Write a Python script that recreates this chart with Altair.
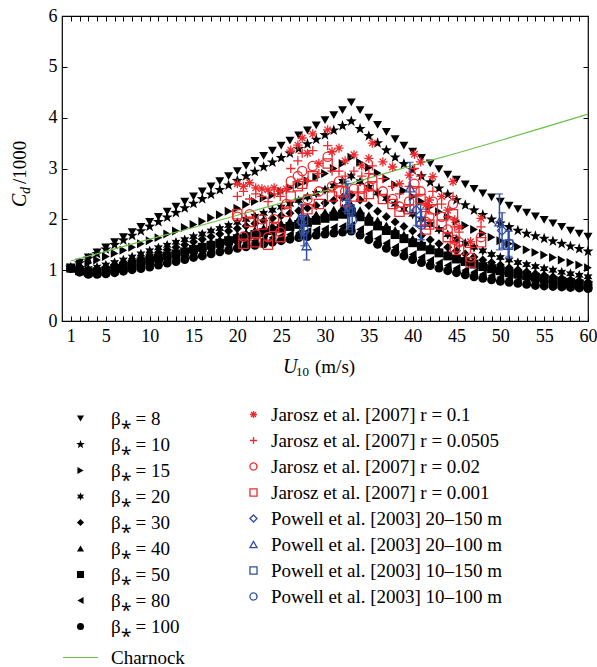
import altair as alt
import pandas as pd

# ---------------- data ----------------
U = list(range(1, 61))

b8 = [1.05,1.15,1.25,1.35,1.45,1.55,1.65,1.75,1.85,1.95,2.05,2.15,2.25,2.35,2.45,2.55,2.65,2.75,2.85,2.95,
      3.05,3.15,3.25,3.35,3.45,3.55,3.65,3.75,3.85,3.95,4.05,4.15,4.30,
      4.15,4.00,3.86,3.72,3.58,3.45,3.33,3.21,3.10,2.99,2.88,2.78,2.69,2.60,2.51,2.43,2.35,2.27,2.20,2.13,2.06,1.99,1.92,1.85,1.78,1.72,1.66]
b10 = [1.05,1.14,1.23,1.32,1.41,1.50,1.59,1.68,1.77,1.86,1.95,2.04,2.13,2.22,2.31,2.40,2.49,2.58,2.67,2.76,
       2.85,2.94,3.03,3.12,3.21,3.30,3.39,3.48,3.57,3.66,3.75,3.84,3.93,
       3.78,3.64,3.50,3.36,3.22,3.09,2.97,2.85,2.73,2.61,2.49,2.38,2.28,2.18,2.09,2.00,1.92,1.85,1.78,1.72,1.67,1.62,1.57,1.52,1.47,1.42,1.37]
b15 = [1.05,1.09,1.14,1.20,1.27,1.33,1.39,1.45,1.52,1.58,1.64,1.71,1.77,1.84,1.90,1.96,2.03,2.09,2.16,2.22,
       2.29,2.35,2.42,2.48,2.55,2.62,2.69,2.76,2.83,2.90,3.00,3.10,3.22,
       3.12,3.02,2.91,2.80,2.68,2.56,2.45,2.35,2.25,2.15,2.05,1.96,1.88,1.80,1.72,1.65,1.58,1.52,1.46,1.40,1.35,1.30,1.25,1.20,1.15,1.10,1.05]
b20 = [1.05,1.03,1.03,1.06,1.10,1.15,1.20,1.26,1.32,1.38,1.44,1.49,1.55,1.60,1.66,1.71,1.77,1.82,1.88,1.94,
       2.00,2.06,2.12,2.18,2.24,2.30,2.37,2.44,2.51,2.58,2.66,2.75,2.85,
       2.74,2.63,2.52,2.41,2.30,2.20,2.10,2.00,1.90,1.80,1.70,1.61,1.53,1.45,1.38,1.31,1.25,1.20,1.15,1.11,1.07,1.03,1.00,0.96,0.93,0.90,0.87]
b30 = [1.04,1.01,1.00,1.02,1.05,1.09,1.14,1.19,1.24,1.30,1.35,1.40,1.45,1.50,1.56,1.61,1.66,1.71,1.77,1.82,
       1.87,1.92,1.97,2.02,2.07,2.12,2.17,2.22,2.27,2.32,2.37,2.43,2.48,
       2.38,2.27,2.16,2.05,1.95,1.86,1.77,1.68,1.60,1.52,1.45,1.38,1.32,1.26,1.20,1.15,1.10,1.05,1.01,0.97,0.93,0.90,0.87,0.84,0.81,0.79,0.77]
b40 = [1.04,1.00,0.98,0.99,1.02,1.06,1.10,1.14,1.19,1.24,1.29,1.33,1.38,1.42,1.47,1.51,1.56,1.60,1.65,1.70,
       1.74,1.79,1.83,1.88,1.92,1.97,2.01,2.05,2.10,2.14,2.19,2.23,2.28,
       2.18,2.08,1.98,1.88,1.79,1.70,1.62,1.54,1.47,1.40,1.33,1.27,1.21,1.16,1.11,1.06,1.02,0.98,0.94,0.91,0.88,0.85,0.82,0.80,0.78,0.75,0.73]
b50 = [1.04,0.99,0.96,0.97,0.99,1.03,1.07,1.11,1.15,1.19,1.24,1.28,1.32,1.36,1.41,1.45,1.49,1.53,1.58,1.62,
       1.66,1.70,1.74,1.78,1.82,1.86,1.90,1.94,1.98,2.02,2.06,2.10,2.14,
       2.05,1.96,1.87,1.78,1.70,1.62,1.54,1.47,1.40,1.34,1.28,1.22,1.17,1.12,1.07,1.03,0.99,0.95,0.92,0.89,0.86,0.83,0.80,0.78,0.76,0.73,0.70]
b80 = [1.03,0.98,0.94,0.94,0.96,0.99,1.02,1.05,1.09,1.12,1.16,1.20,1.24,1.28,1.32,1.36,1.40,1.44,1.48,1.52,
       1.55,1.58,1.61,1.64,1.67,1.70,1.73,1.76,1.79,1.81,1.84,1.86,1.88,
       1.80,1.71,1.62,1.53,1.45,1.38,1.31,1.25,1.19,1.14,1.09,1.04,1.00,0.96,0.92,0.89,0.86,0.83,0.80,0.78,0.76,0.74,0.72,0.70,0.69,0.67,0.66]
b100 = [1.03,0.96,0.92,0.92,0.93,0.95,0.98,1.01,1.03,1.06,1.10,1.14,1.17,1.21,1.25,1.28,1.32,1.36,1.39,1.43,
        1.46,1.49,1.52,1.55,1.58,1.61,1.64,1.66,1.69,1.71,1.73,1.75,1.77,
        1.69,1.60,1.51,1.43,1.35,1.28,1.21,1.15,1.09,1.04,0.99,0.95,0.91,0.87,0.84,0.81,0.78,0.76,0.74,0.72,0.70,0.69,0.68,0.67,0.66,0.65,0.64]

beta_labels = ["β⁎ = 8", "β⁎ = 10", "β⁎ = 15", "β⁎ = 20", "β⁎ = 30",
               "β⁎ = 40", "β⁎ = 50", "β⁎ = 80", "β⁎ = 100"]
beta_series = [b8, b10, b15, b20, b30, b40, b50, b80, b100]

charnock_U = [1, 5, 10, 15, 20, 25, 30, 35, 40, 45, 50, 55, 60]
charnock_cd = [1.18, 1.37, 1.61, 1.84, 2.08, 2.32, 2.56, 2.81, 3.06, 3.30, 3.55, 3.81, 4.07]

# Jarosz et al. [2007]
jar_U = [20.0,20.7,21.4,22.1,22.8,23.5,24.2,24.9,25.6,26.1,26.9,27.4,28.0,28.6,29.3,30.3,30.8,31.6,32.3,33.3,
         34.2,35.0,35.4,36.6,37.7,38.5,39.6,40.2,40.9,41.5,41.9,42.3,43.3,44.0,44.6,44.8,45.3,46.6,47.8]
jar_r1 = [2.70,2.65,2.72,2.62,2.60,2.58,2.62,2.55,2.60,3.36,3.46,3.60,3.30,3.68,3.10,3.76,3.33,3.40,3.15,3.27,
          3.05,3.20,3.50,3.13,3.03,2.70,2.87,3.28,3.13,2.28,2.38,2.84,2.45,2.18,2.74,1.99,1.85,1.56,2.02]
jar_r2 = [2.45,2.55,2.40,2.50,2.45,2.35,2.50,2.45,2.60,3.00,3.15,3.30,2.75,3.35,2.90,3.45,2.95,2.95,2.85,2.95,
          2.85,2.90,3.05,2.80,2.65,2.50,2.65,3.00,2.85,2.15,2.25,2.55,2.30,2.05,2.45,1.85,1.75,1.45,1.85]
jar_r3 = [2.05,1.66,2.10,1.70,2.00,1.65,2.00,1.75,2.30,2.75,2.85,2.95,2.40,3.05,2.55,3.23,2.65,2.75,2.55,2.60,
          2.60,2.65,2.80,2.55,2.40,2.25,2.35,2.70,2.55,1.95,2.05,2.35,2.05,1.80,2.30,1.60,1.55,1.25,1.65]
jar_r4 = [2.10,1.52,1.95,1.55,1.90,1.50,1.85,1.65,2.15,2.45,2.65,2.70,2.20,2.85,2.30,3.10,2.45,2.55,2.35,2.45,
          2.45,2.50,2.65,2.40,2.30,2.15,2.20,2.55,2.40,1.80,1.90,2.20,1.90,1.65,2.10,1.45,1.40,1.15,1.55]

# Powell et al. [2003]
pw_a_U = [27.3, 32.6, 40.4, 50.2]; pw_a_cd = [1.95, 2.25, 2.18, 1.78]; pw_a_err = [0.35, 0.45, 0.30, 0.35]
pw_b_U = [27.9, 32.4, 39.7, 49.9]; pw_b_cd = [1.48, 2.45, 2.62, 1.95]; pw_b_err = [0.28, 0.30, 0.50, 0.55]
pw_c_U = [27.5, 32.8, 40.9, 50.9]; pw_c_cd = [1.98, 2.20, 1.95, 1.50]; pw_c_err = [0.30, 0.35, 0.35, 0.27]
pw_d_U = [27.6, 33.1, 41.0, 51.0]; pw_d_cd = [1.78, 1.98, 1.90, 1.52]; pw_d_err = [0.30, 0.25, 0.30, 0.25]

obs_labels = ["Jarosz et al. [2007] r = 0.1", "Jarosz et al. [2007] r = 0.0505",
              "Jarosz et al. [2007] r = 0.02", "Jarosz et al. [2007] r = 0.001",
              "Powell et al. [2003] 20–150 m", "Powell et al. [2003] 20–100 m",
              "Powell et al. [2003] 10–150 m", "Powell et al. [2003] 10–100 m"]

# ---------------- tables ----------------
model_rows = []
for lab, vals in zip(beta_labels, beta_series):
    for u, c in zip(U, vals):
        model_rows.append({"U": u, "Cd": c, "series": lab})
model_df = pd.DataFrame(model_rows)

obs_rows = []
for lab, vals in zip(obs_labels[:4], [jar_r1, jar_r2, jar_r3, jar_r4]):
    for u, c in zip(jar_U, vals):
        obs_rows.append({"U": u, "Cd": c, "series": lab})
pw = [(pw_a_U, pw_a_cd, pw_a_err), (pw_b_U, pw_b_cd, pw_b_err),
      (pw_c_U, pw_c_cd, pw_c_err), (pw_d_U, pw_d_cd, pw_d_err)]
err_rows, cap_rows = [], []
for lab, (us, cs, es) in zip(obs_labels[4:], pw):
    for u, c, e in zip(us, cs, es):
        obs_rows.append({"U": u, "Cd": c, "series": lab})
        err_rows.append({"U": u, "lo": c - e, "hi": c + e})
        cap_rows.append({"U": u, "Cd": c - e})
        cap_rows.append({"U": u, "Cd": c + e})
obs_df = pd.DataFrame(obs_rows)
err_df = pd.DataFrame(err_rows)
cap_df = pd.DataFrame(cap_rows)
charnock_df = pd.DataFrame({"U": charnock_U, "Cd": charnock_cd, "name": ["Charnock"] * len(charnock_U)})

# ---------------- style ----------------
FONT = "Liberation Serif"
RED = "#ee2a2f"
BLUE = "#2f4fa3"
GREEN = "#6cc04a"

STAR5 = "M0,-1.3L0.306,-0.421L1.236,-0.402L0.494,0.161L0.764,1.052L0,0.52L-0.764,1.052L-0.494,0.161L-1.236,-0.402L-0.306,-0.421Z"
STAR6 = "M0,-1.15L0.29,-0.5L1.0,-0.575L0.58,0L1.0,0.575L0.29,0.5L0,1.15L-0.29,0.5L-1.0,0.575L-0.58,0L-1.0,-0.575L-0.29,-0.5Z"
ASTER = "M0,-1L0,1M-1,0L1,0M-0.7,-0.7L0.7,0.7M-0.7,0.7L0.7,-0.7"
PLUS = "M0,-1L0,1M-1,0L1,0"

beta_shapes = ["triangle-down", STAR5, "triangle-right", STAR6, "diamond",
               "triangle-up", "square", "triangle-left", "circle"]
obs_shapes = [ASTER, PLUS, "circle", "square", "diamond", "triangle-up", "square", "circle"]
obs_colors = [RED] * 4 + [BLUE] * 4

xs = alt.Scale(domain=[0, 60], nice=False, zero=False)
ys = alt.Scale(domain=[0, 6], nice=False, zero=False)

major_x = [1, 5, 10, 15, 20, 25, 30, 35, 40, 45, 50, 55, 60]
label_expr = "indexof(" + str(major_x) + ", datum.value) >= 0 ? datum.label : ''"

axis_df = pd.DataFrame({"U": [0, 60], "Cd": [0, 6]})

axes_a = alt.Chart(axis_df).mark_point(opacity=0).encode(
    x=alt.X("U:Q", scale=xs, axis=alt.Axis(orient="bottom", values=list(range(1, 61)), offset=-5,
                                            tickSize=5, tickColor="black", domain=False, grid=False,
                                            labelExpr=label_expr, labelFont=FONT, labelFontSize=18,
                                            labelColor="black", labelPadding=6, labelOverlap=False,
                                            labelFlush=False, labelBound=False, title=None)),
    y=alt.Y("Cd:Q", scale=ys, axis=alt.Axis(orient="left", values=[0, 1, 2, 3, 4, 5, 6], offset=-5,
                                             tickSize=5, tickColor="black", domain=False, grid=False,
                                             labelFont=FONT, labelFontSize=18, labelColor="black",
                                             labelPadding=5, labelOverlap=False, labelFlush=False,
                                             labelBound=False, title=None)),
)
axes_b = alt.Chart(axis_df).mark_point(opacity=0).encode(
    x=alt.X("U:Q", scale=xs, axis=alt.Axis(orient="top", values=list(range(1, 60)), offset=-5,
                                            tickSize=5, tickColor="black", domain=False, grid=False,
                                            labels=False, title=None)),
    y=alt.Y("Cd:Q", scale=ys, axis=alt.Axis(orient="right", values=[1, 2, 3, 4, 5], offset=-5,
                                             tickSize=5, tickColor="black", domain=False, grid=False,
                                             labels=False, title=None)),
)

model = alt.Chart(model_df).mark_point(filled=True, size=80, opacity=1, strokeWidth=0).encode(
    x=alt.X("U:Q", scale=xs, axis=None),
    y=alt.Y("Cd:Q", scale=ys, axis=None),
    shape=alt.Shape("series:N", sort=beta_labels,
                    scale=alt.Scale(domain=beta_labels, range=beta_shapes),
                    legend=alt.Legend(orient="none", legendX=9, legendY=393, padding=0, title=None,
                                      labelFont=FONT, labelFontSize=19, labelColor="black",
                                      symbolSize=50, symbolFillColor="black", symbolStrokeColor="black",
                                      symbolStrokeWidth=0, labelOffset=21, rowPadding=6, labelLimit=0)),
    color=alt.value("black"),
)

charnock = alt.Chart(charnock_df).mark_line(strokeWidth=1.2).encode(
    x=alt.X("U:Q", scale=xs, axis=None),
    y=alt.Y("Cd:Q", scale=ys, axis=None),
    color=alt.Color("name:N", scale=alt.Scale(domain=["Charnock"], range=[GREEN]),
                    legend=alt.Legend(orient="none", legendX=0, legendY=623, padding=0, title=None,
                                      labelFont=FONT, labelFontSize=19, labelColor="black",
                                      symbolType="stroke", symbolSize=1225, symbolStrokeWidth=1.2,
                                      labelOffset=12, labelLimit=0)),
)

errbars = alt.Chart(err_df).mark_rule(color=BLUE, strokeWidth=1.5).encode(
    x=alt.X("U:Q", scale=xs, axis=None),
    y=alt.Y("lo:Q", scale=ys, axis=None),
    y2="hi:Q",
)
caps = alt.Chart(cap_df).mark_tick(color=BLUE, orient="horizontal", size=7, thickness=1.5).encode(
    x=alt.X("U:Q", scale=xs, axis=None),
    y=alt.Y("Cd:Q", scale=ys, axis=None),
)

obs_legend = alt.Legend(orient="none", legendX=182, legendY=389, padding=0, title=None,
                        labelFont=FONT, labelFontSize=19, labelColor="black",
                        symbolSize=50, symbolStrokeWidth=1.3, labelOffset=8,
                        rowPadding=6, labelLimit=0)
obs = alt.Chart(obs_df).mark_point(filled=False, size=85, strokeWidth=1.3, opacity=1).encode(
    x=alt.X("U:Q", scale=xs, axis=None),
    y=alt.Y("Cd:Q", scale=ys, axis=None),
    shape=alt.Shape("series:N", sort=obs_labels,
                    scale=alt.Scale(domain=obs_labels, range=obs_shapes), legend=obs_legend),
    color=alt.Color("series:N", sort=obs_labels,
                    scale=alt.Scale(domain=obs_labels, range=obs_colors), legend=obs_legend),
)

one = pd.DataFrame({"k": [0]})
def txt(s, x, y, size=19, italic=False, angle=0):
    kw = dict(text=s, font=FONT, fontSize=size, align="left", baseline="middle", color="black")
    if italic:
        kw["fontStyle"] = "italic"
    if angle:
        kw["angle"] = angle
    return alt.Chart(one).mark_text(**kw).encode(x=alt.value(x), y=alt.value(y))

titles = [
    txt("C", -42, 191, 20, True, 270),
    txt("d", -36, 178, 14, True, 270),
    txt("/1000", -42, 168, 19, False, 270),
    txt("U", 221, 351, 20, True),
    txt("10", 234, 356, 13),
    txt("(m/s)", 253, 351, 19),
]

chart = alt.layer(axes_a, axes_b, model, charnock, errbars, caps, obs, *titles).resolve_scale(
    x="shared", y="shared", color="independent", shape="independent"
).resolve_axis(x="independent", y="independent").properties(
    width=526, height=305,
    padding={"left": 62, "top": 16, "right": 9, "bottom": 346},
    autosize=alt.AutoSizeParams(type="none"),
).configure_view(stroke="black", strokeWidth=1.2).configure_legend(
    labelFont=FONT, labelFontSize=19, labelColor="black"
).configure_axis(labelFont=FONT).configure_text(font=FONT)

chart.save("out.html", embed_options={"renderer": "svg", "actions": False})
